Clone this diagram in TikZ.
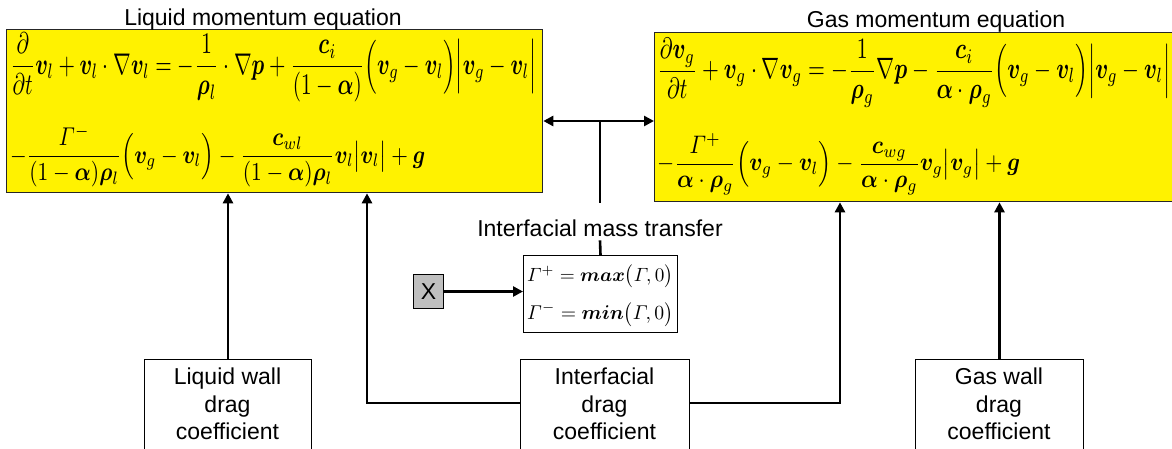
\documentclass[tikz,border=0pt]{standalone}
\usepackage[no-math]{fontspec}
\setmainfont{Liberation Sans}
\usepackage{amsmath}
\usepackage{bm}
\usepackage{graphicx}
\usetikzlibrary{arrows.meta}
\begin{document}
\begin{tikzpicture}[x=1pt,y=-1pt,
  lbl/.style={font=\fontsize{23}{27.5}\selectfont, inner sep=0pt},
  eqbox/.style={draw=black!85, line width=1.3pt, fill=yellow, inner sep=0pt, anchor=north west},
  wbox/.style={draw=black, line width=1pt, fill=white, inner sep=0pt, anchor=north west},
  eqn/.style={inner sep=0pt, anchor=north west},
  conn/.style={line width=2.6pt},
  arr/.style={conn, -{Triangle[length=10pt,width=10pt]}},
  dblarr/.style={conn, {Triangle[length=10pt,width=10pt]}-{Triangle[length=10pt,width=10pt]}}
]
\useasboundingbox (0,0) rectangle (1172,448);

% equation boxes
\node[eqbox, minimum width=536pt, minimum height=163pt] (lbox) at (6,29) {};
\node[eqbox, minimum width=540pt, minimum height=169pt] (rbox) at (654,32) {};

\node[lbl, anchor=base] (lt) at (263,25) {Liquid momentum equation};
\node[lbl, anchor=base] (gt) at (936,27) {Gas momentum equation};

\node[eqn] (l1) at (10,33) {\resizebox*{526pt}{69pt}{$\displaystyle
 \frac{\partial}{\partial t}\bm{v}_l+\bm{v}_l\cdot\nabla\bm{v}_l=-\frac{1}{\bm{\rho}_l}\cdot\nabla\bm{p}+\frac{\bm{c}_i}{\left(1-\bm{\alpha}\right)}\Bigl(\bm{v}_g-\bm{v}_l\Bigr)\Bigl|\bm{v}_g-\bm{v}_l\Bigr|$}};
\node[eqn] (l2) at (10,125) {\resizebox*{415pt}{62pt}{$\displaystyle
 -\frac{\varGamma^-}{(1-\bm{\alpha})\bm{\rho}_l}\Bigl(\bm{v}_g-\bm{v}_l\Bigr)-\frac{\bm{c}_{wl}}{(1-\bm{\alpha})\bm{\rho}_l}\bm{v}_l\bigl|\bm{v}_l\bigr|+\bm{g}$}};

\node[eqn] (r1) at (657,38) {\resizebox*{513pt}{69pt}{$\displaystyle
 \frac{\partial\bm{v}_g}{\partial t}+\bm{v}_g\cdot\nabla\bm{v}_g=-\frac{1}{\bm{\rho}_g}\nabla\bm{p}-\frac{\bm{c}_i}{\bm{\alpha}\cdot\bm{\rho}_g}\Bigl(\bm{v}_g-\bm{v}_l\Bigr)\Bigl|\bm{v}_g-\bm{v}_l\Bigr|$}};
\node[eqn] (r2) at (657,133) {\resizebox*{363pt}{62pt}{$\displaystyle
 -\frac{\varGamma^+}{\bm{\alpha}\cdot\bm{\rho}_g}\Bigl(\bm{v}_g-\bm{v}_l\Bigr)-\frac{\bm{c}_{wg}}{\bm{\alpha}\cdot\bm{\rho}_g}\bm{v}_g\bigl|\bm{v}_g\bigr|+\bm{g}$}};

% interfacial mass transfer
\coordinate (dm) at (600,121);
\node[lbl, anchor=base] (mt) at (600,236) {Interfacial mass transfer};
\node[wbox, minimum width=154pt, minimum height=77pt] (mbox) at (523,255) {};
\node[eqn] (m1) at (527,265) {\resizebox*{146pt}{23pt}{$\varGamma^+=\bm{max}\bigl(\varGamma,0\bigr)$}};
\node[eqn] (m2) at (527,302) {\resizebox*{146pt}{24pt}{$\varGamma^-=\bm{min}\bigl(\varGamma,0\bigr)$}};
\node[draw=black, line width=1pt, fill=black!25, minimum width=30pt, minimum height=34pt, inner sep=0pt, anchor=north west,
      font=\fontsize{23}{27.5}\selectfont] (xbox) at (413,274) {X};

% bottom boxes
\node[wbox, minimum width=167pt, minimum height=100pt] (lwall) at (144,359) {};
\node[wbox, minimum width=169pt, minimum height=100pt] (idrag) at (520,359) {};
\node[wbox, minimum width=168pt, minimum height=100pt] (gwall) at (915,359) {};
\node[lbl, align=center] (lwt) at (227.5,404) {Liquid wall\\drag\\coefficient};
\node[lbl, align=center] (idt) at (604.5,404) {Interfacial\\drag\\coefficient};
\node[lbl, align=center] (gwt) at (999,404) {Gas wall\\drag\\coefficient};

% connectors
\draw[dblarr] (dm -| lbox.east) -- (dm -| rbox.west);
\draw[conn] (dm) -- ([yshift=16pt]mt.north);
\draw[conn] ([yshift=-4pt]mt.south) -- (mbox.north);
\draw[arr] (xbox.east) -- (mbox.west |- xbox.east);
\draw[arr] (lwall.north) -- (lwall.north |- lbox.south);
\draw[arr] (gwall.north) -- (gwall.north |- rbox.south);
\draw[arr] ([yshift=-44pt]idrag.north west) -| ([xshift=361pt]lbox.south west);
\draw[arr] ([yshift=-44pt]idrag.north east) -| ([xshift=186pt]rbox.south west);
\end{tikzpicture}
\end{document}
